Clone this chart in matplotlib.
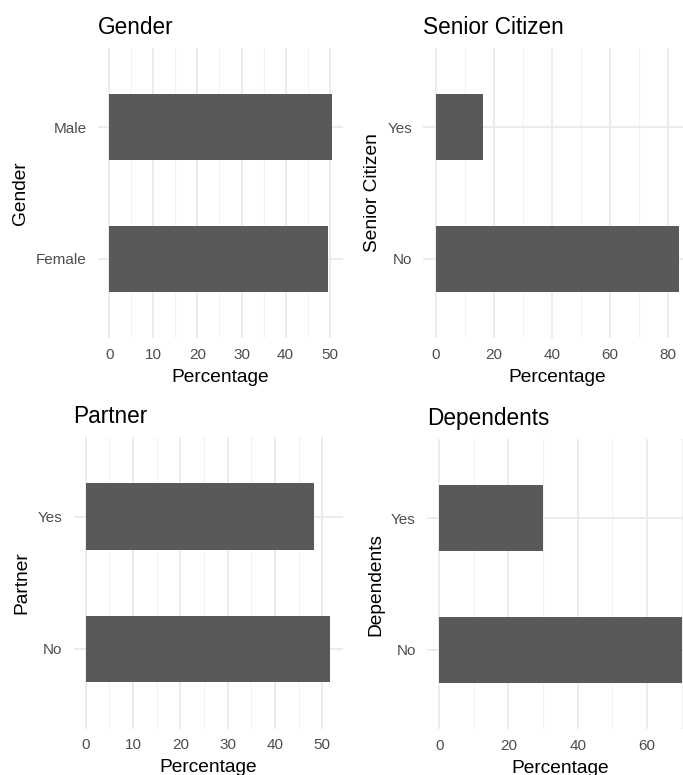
import matplotlib
matplotlib.use("Agg")
import matplotlib.pyplot as plt
import numpy as np

plt.rcParams['font.family'] = ['Liberation Sans', 'DejaVu Sans']

# Percentages per category (Telco customer demographics)
gender_levels = ['Female', 'Male']
gender_pct = [49.52, 50.48]

senior_levels = ['No', 'Yes']
senior_pct = [83.79, 16.21]

partner_levels = ['No', 'Yes']
partner_pct = [51.70, 48.30]

dependents_levels = ['No', 'Yes']
dependents_pct = [70.04, 29.96]

W, H = 683, 775
fig = plt.figure(figsize=(W / 100, H / 100), dpi=100)
fig.patch.set_facecolor('white')


def px_axes(left, right, top, bottom):
    # pixel box -> figure fraction
    return fig.add_axes([left / W, 1 - bottom / H, (right - left) / W, (bottom - top) / H])


def panel(ax, levels, values, title, step):
    pos = np.arange(1, len(levels) + 1)
    ax.barh(pos, values, height=0.5, color='#595959', zorder=2)
    vmax = max(values)
    ax.set_xlim(-0.05 * vmax, 1.05 * vmax)
    ax.set_ylim(0.4, len(levels) + 0.6)
    ax.set_yticks(pos)
    ax.set_yticklabels(levels)
    ax.set_xticks(np.arange(0, vmax + 0.01, step))
    ax.set_xticks(np.arange(step / 2, vmax * 1.05, step), minor=True)
    ax.grid(which='major', color='#ebebeb', linewidth=1.3, zorder=0)
    ax.grid(which='minor', axis='x', color='#f2f2f2', linewidth=0.8, zorder=0)
    ax.set_axisbelow(True)
    for s in ax.spines.values():
        s.set_visible(False)
    ax.tick_params(which='both', length=0)
    ax.tick_params(axis='x', labelsize=11, colors='#4d4d4d', pad=7)
    ax.tick_params(axis='y', labelsize=11, colors='#4d4d4d', pad=8)
    ax.set_xlabel('Percentage', fontsize=13.8, color='black', labelpad=5)
    ax.set_ylabel(title, fontsize=13.8, color='black', labelpad=5)
    ax.set_title(title, fontsize=16.3, loc='left', pad=10)


ax1 = px_axes(98, 343, 48, 338)
panel(ax1, gender_levels, gender_pct, 'Gender', 10)

ax2 = px_axes(423.5, 691, 48, 338)
panel(ax2, senior_levels, senior_pct, 'Senior Citizen', 20)

ax3 = px_axes(73.5, 342.5, 437, 728.5)
panel(ax3, partner_levels, partner_pct, 'Partner', 10)

ax4 = px_axes(427, 694, 439, 729)
panel(ax4, dependents_levels, dependents_pct, 'Dependents', 20)

fig.savefig('out.png', dpi=100)
